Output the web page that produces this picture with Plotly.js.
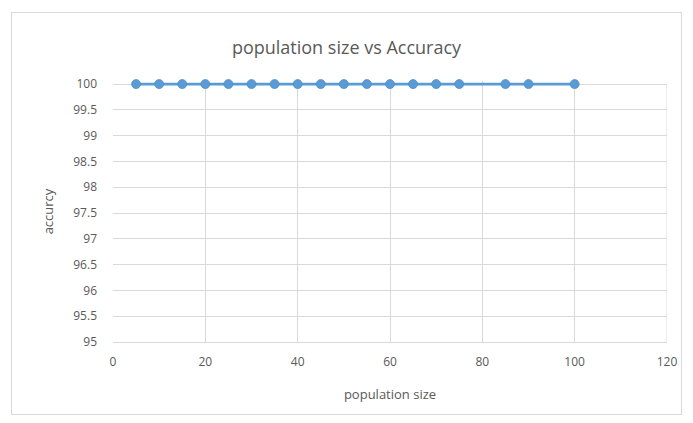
<!DOCTYPE html>
<html>
<head>
<meta charset="utf-8">
<script src="https://cdn.plot.ly/plotly-3.0.1.min.js"></script>
<style>
  html, body { margin: 0; padding: 0; background: #ffffff; }
  #wrap { position: relative; width: 693px; height: 423px; }
  #chart { width: 693px; height: 423px; }
  #frame {
    position: absolute; left: 11px; top: 12px; width: 671px; height: 403px;
    border: 1px solid #d9d9d9; pointer-events: none; box-sizing: border-box;
  }
</style>
</head>
<body>
<div id="wrap">
  <div id="chart"></div>
  <div id="frame"></div>
</div>
<script>
// population sizes tested and the accuracy reached at each
const populationSize = [5, 10, 15, 20, 25, 30, 35, 40, 45, 50, 55, 60, 65, 70, 75, 85, 90, 100];
const accuracy = [100, 100, 100, 100, 100, 100, 100, 100, 100, 100, 100, 100, 100, 100, 100, 100, 100, 100];

const xTicks = [0, 20, 40, 60, 80, 100, 120];
const yTicks = [95, 95.5, 96, 96.5, 97, 97.5, 98, 98.5, 99, 99.5, 100];

const textColor = '#595959';
const gridColor = '#d9d9d9';
const font = 'Open Sans, Liberation Sans, sans-serif';

const trace = {
  x: populationSize,
  y: accuracy,
  type: 'scatter',
  mode: 'lines+markers',
  line: { color: '#5b9bd5', width: 2.75 },
  marker: { color: '#5b9bd5', size: 9, line: { color: '#4a89c4', width: 0.75 } },
  cliponaxis: false,
  hoverinfo: 'x+y'
};

// a little headroom above 100 so the series line is not cut by the plot edge
const layout = {
  width: 693,
  height: 423,
  margin: { l: 113, r: 26, t: 81, b: 81 },
  paper_bgcolor: '#ffffff',
  plot_bgcolor: '#ffffff',
  showlegend: false,
  title: {
    text: 'population size vs Accuracy',
    font: { family: font, size: 18, color: textColor },
    x: 0.5, xanchor: 'center',
    y: 0.887, yanchor: 'middle'
  },
  xaxis: {
    range: [0, 120],
    tickvals: xTicks,
    ticktext: xTicks.map(String),
    showgrid: true,
    gridcolor: gridColor,
    gridwidth: 1,
    zeroline: false,
    showline: true,
    linecolor: gridColor,
    linewidth: 1,
    mirror: false,
    ticks: '',
    ticklabelstandoff: 9,
    tickfont: { family: font, size: 12, color: textColor },
    title: {
      text: 'population size',
      font: { family: font, size: 13, color: textColor },
      standoff: 20
    }
  },
  yaxis: {
    range: [95, 100.06],
    tickvals: yTicks,
    ticktext: yTicks.map(String),
    showgrid: true,
    gridcolor: gridColor,
    gridwidth: 1,
    zeroline: false,
    showline: false,
    ticks: '',
    ticklabelstandoff: 15,
    tickfont: { family: font, size: 12, color: textColor },
    title: {
      text: 'accurcy',
      font: { family: font, size: 13, color: textColor },
      standoff: 16
    }
  },
  shapes: [
    { type: 'line', xref: 'x', yref: 'y', x0: 120, x1: 120, y0: 95, y1: 100,
      line: { color: gridColor, width: 1 }, layer: 'below' }
  ]
};

Plotly.newPlot('chart', [trace], layout, { displayModeBar: false, staticPlot: true });
</script>
</body>
</html>
